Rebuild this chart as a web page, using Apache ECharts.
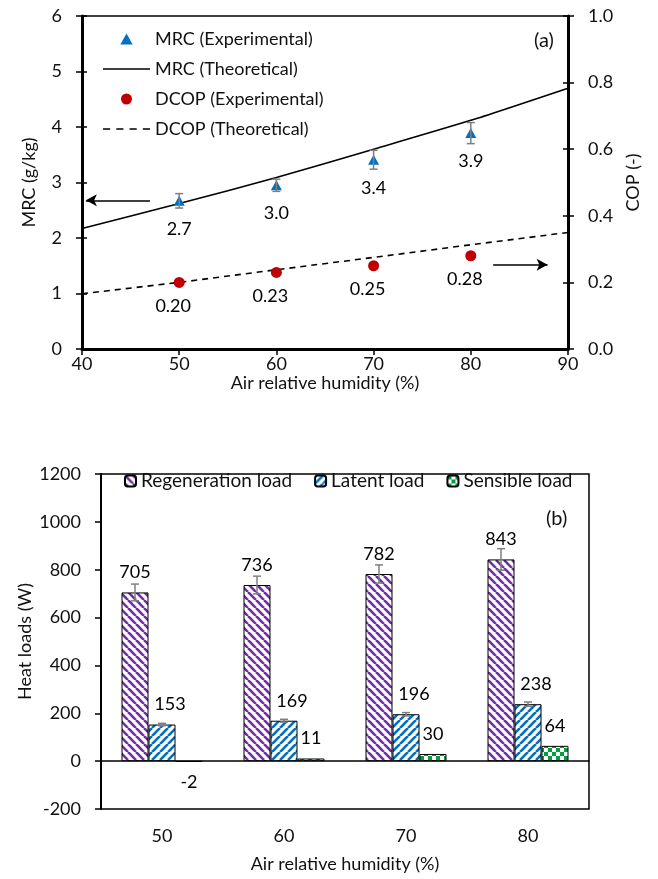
<!DOCTYPE html>
<html>
<head>
<meta charset="utf-8">
<script src="https://cdn.jsdelivr.net/npm/echarts@6/dist/echarts.min.js"></script>
<style>
  html, body { margin: 0; padding: 0; background: #fff; }
  #chart { width: 658px; height: 879px; }
</style>
</head>
<body>
<div id="chart"></div>
<script>
// (a) 数据
const rh = [50, 60, 70, 80]
const rhTheory = [40, 50, 60, 70, 80, 90]
const mrcExp = [2.67, 2.95, 3.41, 3.89]
const mrcLabels = ['2.7', '3.0', '3.4', '3.9']
const mrcErr = [0.13, 0.11, 0.17, 0.19]
const mrcTheory = [2.17, 2.62, 3.09, 3.60, 4.12, 4.70]
const dcopExp = [0.20, 0.23, 0.25, 0.28]
const dcopLabels = ['0.20', '0.23', '0.25', '0.28']
const dcopTheory = [0.166, 0.200, 0.238, 0.275, 0.313, 0.350]

// (b) 数据
const categories = ['50', '60', '70', '80']
const regen = [705, 736, 782, 843]
const regenErr = [35, 37, 38, 45]
const latent = [153, 169, 196, 238]
const latentErr = [5, 6, 7, 9]
const sensible = [-2, 11, 30, 64]

const FONT = 'Lato'
const TXT = '#111'

// 图案填充
function stripes(color, dir) {
  const c = document.createElement('canvas')
  c.width = 8; c.height = 8
  const g = c.getContext('2d')
  g.fillStyle = '#fff'
  g.fillRect(0, 0, 8, 8)
  g.strokeStyle = color
  g.lineWidth = 2.6
  for (const o of [-8, 0, 8]) {
    g.beginPath()
    if (dir > 0) { g.moveTo(o, 8); g.lineTo(o + 8, 0) }
    else { g.moveTo(o, 0); g.lineTo(o + 8, 8) }
    g.stroke()
  }
  return c
}
function checker(color) {
  const c = document.createElement('canvas')
  c.width = 8; c.height = 8
  const g = c.getContext('2d')
  g.fillStyle = '#fff'
  g.fillRect(0, 0, 8, 8)
  g.fillStyle = color
  g.fillRect(0, 0, 4, 4)
  g.fillRect(4, 4, 4, 4)
  return c
}

// 误差线
function errorBar(dx, cap) {
  return function (params, api) {
    const x = api.value(0), v = api.value(1), e = api.value(2)
    const hi = api.coord([x, v + e])
    const lo = api.coord([x, v - e])
    const px = hi[0] + dx
    const style = { stroke: '#7f7f7f', lineWidth: 1.5 }
    return {
      type: 'group',
      children: [
        { type: 'line', shape: { x1: px, y1: hi[1], x2: px, y2: lo[1] }, style },
        { type: 'line', shape: { x1: px - cap, y1: hi[1], x2: px + cap, y2: hi[1] }, style },
        { type: 'line', shape: { x1: px - cap, y1: lo[1], x2: px + cap, y2: lo[1] }, style }
      ]
    }
  }
}

// 图例图标
const ICON_TRI = 'path://M5,0L10,9L0,9Z'
const ICON_LINE = 'path://M0,0H46V1.6H0Z'
const ICON_DASH = 'path://M0,0H7V1.6H0Z M13,0H20V1.6H13Z M26,0H33V1.6H26Z M39,0H46V1.6H39Z'

const chart = echarts.init(document.getElementById('chart'))

const axisText = { fontFamily: FONT, fontSize: 18, color: TXT }
const nameText = { fontFamily: FONT, fontSize: 18, color: TXT }
const dataLabel = { fontFamily: FONT, fontSize: 18, color: '#000' }

const option = {
  animation: false,
  backgroundColor: '#fff',
  textStyle: { fontFamily: FONT },
  grid: [
    { left: 82, right: 90, top: 16, height: 333, show: true, borderColor: '#000', borderWidth: 1.5 },
    { left: 101, right: 69, top: 474, height: 335, show: true, borderColor: '#000', borderWidth: 1.5 }
  ],
  legend: [
    {
      orient: 'vertical', left: 98, top: 24, itemWidth: 47, itemHeight: 11, itemGap: 10,
      symbolKeepAspect: true,
      textStyle: { fontFamily: FONT, fontSize: 18, color: TXT, lineHeight: 20 },
      data: [
        { name: 'MRC (Experimental)', icon: ICON_TRI },
        { name: 'MRC (Theoretical)', icon: ICON_LINE },
        { name: 'DCOP (Experimental)', icon: 'circle' },
        { name: 'DCOP (Theoretical)', icon: ICON_DASH }
      ]
    },
    {
      orient: 'horizontal', left: 119, top: 466, itemWidth: 11, itemHeight: 11, itemGap: 22,
      textStyle: { fontFamily: FONT, fontSize: 19, color: TXT, lineHeight: 20 },
      data: ['Regeneration load', 'Latent load', 'Sensible load']
    }
  ],
  graphic: [
    { type: 'text', left: 534, top: 31, style: { text: '(a)', font: '20px ' + FONT, fill: TXT } },
    { type: 'text', left: 546, top: 509, style: { text: '(b)', font: '20px ' + FONT, fill: TXT } }
  ],
  xAxis: [
    {
      gridIndex: 0, type: 'value', min: 40, max: 90, interval: 10,
      name: 'Air relative humidity (%)', nameLocation: 'middle', nameGap: 23, nameTextStyle: nameText,
      axisLine: { lineStyle: { color: '#000', width: 3 } },
      axisTick: { length: 6, lineStyle: { color: '#000', width: 1.5 } },
      axisLabel: Object.assign({ margin: 6 }, axisText),
      splitLine: { show: false }
    },
    {
      gridIndex: 1, type: 'category', data: categories, position: 'bottom',
      axisLine: { onZero: true, lineStyle: { color: '#000', width: 1.5 } },
      axisTick: { length: 6, lineStyle: { color: '#000', width: 1.5 } },
      axisLabel: { show: false },
      splitLine: { show: false }
    },
    {
      gridIndex: 1, type: 'category', data: categories, position: 'bottom',
      name: 'Air relative humidity (%)', nameLocation: 'middle', nameGap: 46, nameTextStyle: nameText,
      axisLine: { show: false, onZero: false },
      axisTick: { show: false },
      axisLabel: Object.assign({ margin: 18 }, axisText),
      splitLine: { show: false }
    }
  ],
  yAxis: [
    {
      gridIndex: 0, type: 'value', position: 'left', min: 0, max: 6, interval: 1,
      name: 'MRC (g/kg)', nameLocation: 'middle', nameGap: 44, nameTextStyle: nameText,
      axisLine: { show: true, lineStyle: { color: '#000', width: 3 } },
      axisTick: { show: true, length: 6, lineStyle: { color: '#000', width: 1.5 } },
      axisLabel: Object.assign({ margin: 20 }, axisText),
      splitLine: { show: false }
    },
    {
      gridIndex: 0, type: 'value', position: 'right', min: 0, max: 1, interval: 0.2,
      name: 'COP (-)', nameLocation: 'middle', nameGap: 56, nameTextStyle: nameText,
      axisLine: { show: true, lineStyle: { color: '#000', width: 3 } },
      axisTick: { show: true, length: 6, lineStyle: { color: '#000', width: 1.5 } },
      axisLabel: Object.assign({ margin: 20, formatter: v => v.toFixed(1) }, axisText),
      splitLine: { show: false }
    },
    {
      gridIndex: 0, type: 'value', position: 'left', min: 0, max: 6, interval: 1,
      axisLine: { show: false },
      axisTick: { show: true, inside: true, length: 5, lineStyle: { color: '#000', width: 1.5 } },
      axisLabel: { show: false }, splitLine: { show: false }
    },
    {
      gridIndex: 0, type: 'value', position: 'right', min: 0, max: 1, interval: 0.2,
      axisLine: { show: false },
      axisTick: { show: true, inside: true, length: 5, lineStyle: { color: '#000', width: 1.5 } },
      axisLabel: { show: false }, splitLine: { show: false }
    },
    {
      gridIndex: 1, type: 'value', position: 'left', min: -200, max: 1200, interval: 200,
      name: 'Heat loads (W)', nameLocation: 'middle', nameGap: 67, nameMoveOverlap: false,
      nameTextStyle: nameText,
      axisLine: { show: true, lineStyle: { color: '#000', width: 2 } },
      axisTick: { show: true, length: 6, lineStyle: { color: '#000', width: 1.5 } },
      axisLabel: Object.assign({ margin: 20, formatter: v => String(v) }, axisText),
      splitLine: { show: false }
    }
  ],
  series: [
    {
      name: 'MRC (Experimental)', type: 'scatter', xAxisIndex: 0, yAxisIndex: 0,
      data: rh.map((x, i) => [x, mrcExp[i]]),
      symbol: 'triangle', symbolSize: [11, 10], z: 4,
      itemStyle: { color: '#0070C0', opacity: 1 },
      label: Object.assign({
        show: true, position: 'bottom', distance: 14,
        formatter: p => mrcLabels[p.dataIndex]
      }, dataLabel)
    },
    {
      type: 'custom', xAxisIndex: 0, yAxisIndex: 0, z: 5, silent: true,
      renderItem: errorBar(0, 4),
      data: rh.map((x, i) => [x, mrcExp[i], mrcErr[i]])
    },
    {
      name: 'MRC (Theoretical)', type: 'line', xAxisIndex: 0, yAxisIndex: 0,
      data: rhTheory.map((x, i) => [x, mrcTheory[i]]),
      symbol: 'none', smooth: 0.2,
      lineStyle: { color: '#000', width: 1.6 },
      itemStyle: { color: '#000' },
      markLine: {
        silent: true, animation: false,
        symbol: ['none', 'arrow'], symbolSize: [9, 11],
        label: { show: false },
        lineStyle: { color: '#000', width: 1.5, type: 'solid' },
        data: [[{ coord: [47.0, 2.68] }, { coord: [40.4, 2.68] }]]
      }
    },
    {
      name: 'DCOP (Experimental)', type: 'scatter', xAxisIndex: 0, yAxisIndex: 1,
      data: rh.map((x, i) => [x, dcopExp[i]]),
      symbol: 'circle', symbolSize: 11, z: 4,
      itemStyle: { color: '#C00000', opacity: 1 },
      label: Object.assign({
        show: true, position: 'bottom', distance: 9, offset: [-6, 0],
        formatter: p => dcopLabels[p.dataIndex]
      }, dataLabel)
    },
    {
      name: 'DCOP (Theoretical)', type: 'line', xAxisIndex: 0, yAxisIndex: 1,
      data: rhTheory.map((x, i) => [x, dcopTheory[i]]),
      symbol: 'none',
      lineStyle: { color: '#000', width: 1.6, type: [6, 5] },
      itemStyle: { color: '#000' },
      markLine: {
        silent: true, animation: false,
        symbol: ['none', 'arrow'], symbolSize: [9, 11],
        label: { show: false },
        lineStyle: { color: '#000', width: 1.5, type: 'solid' },
        data: [[{ coord: [82.3, 0.253] }, { coord: [87.9, 0.253] }]]
      }
    },
    {
      name: 'Regeneration load', type: 'bar', xAxisIndex: 1, yAxisIndex: 4,
      data: regen, barWidth: 27, barGap: '0%',
      itemStyle: { color: { image: stripes('#7030A0', -1), repeat: 'repeat' }, borderColor: '#000', borderWidth: 1 },
      label: Object.assign({ show: true, position: 'top', distance: 11 }, dataLabel)
    },
    {
      name: 'Latent load', type: 'bar', xAxisIndex: 1, yAxisIndex: 4,
      data: latent, barWidth: 27, barGap: '0%',
      itemStyle: { color: { image: stripes('#0070C0', 1), repeat: 'repeat' }, borderColor: '#000', borderWidth: 1 },
      label: Object.assign({ show: true, position: 'top', distance: 11, offset: [8, 0] }, dataLabel)
    },
    {
      name: 'Sensible load', type: 'bar', xAxisIndex: 1, yAxisIndex: 4,
      data: sensible.map(v => v < 0 ? { value: v, label: { position: 'bottom' } } : v),
      barWidth: 27, barGap: '0%',
      itemStyle: { color: { image: checker('#00A040'), repeat: 'repeat' }, borderColor: '#000', borderWidth: 1 },
      label: Object.assign({ show: true, position: 'top', distance: 11 }, dataLabel)
    },
    {
      type: 'custom', xAxisIndex: 1, yAxisIndex: 4, z: 5, silent: true,
      renderItem: errorBar(-27, 4),
      data: regen.map((v, i) => [i, v, regenErr[i]])
    },
    {
      type: 'custom', xAxisIndex: 1, yAxisIndex: 4, z: 5, silent: true,
      renderItem: errorBar(0, 4),
      data: latent.map((v, i) => [i, v, latentErr[i]])
    }
  ]
}

chart.setOption(option)
</script>
</body>
</html>
